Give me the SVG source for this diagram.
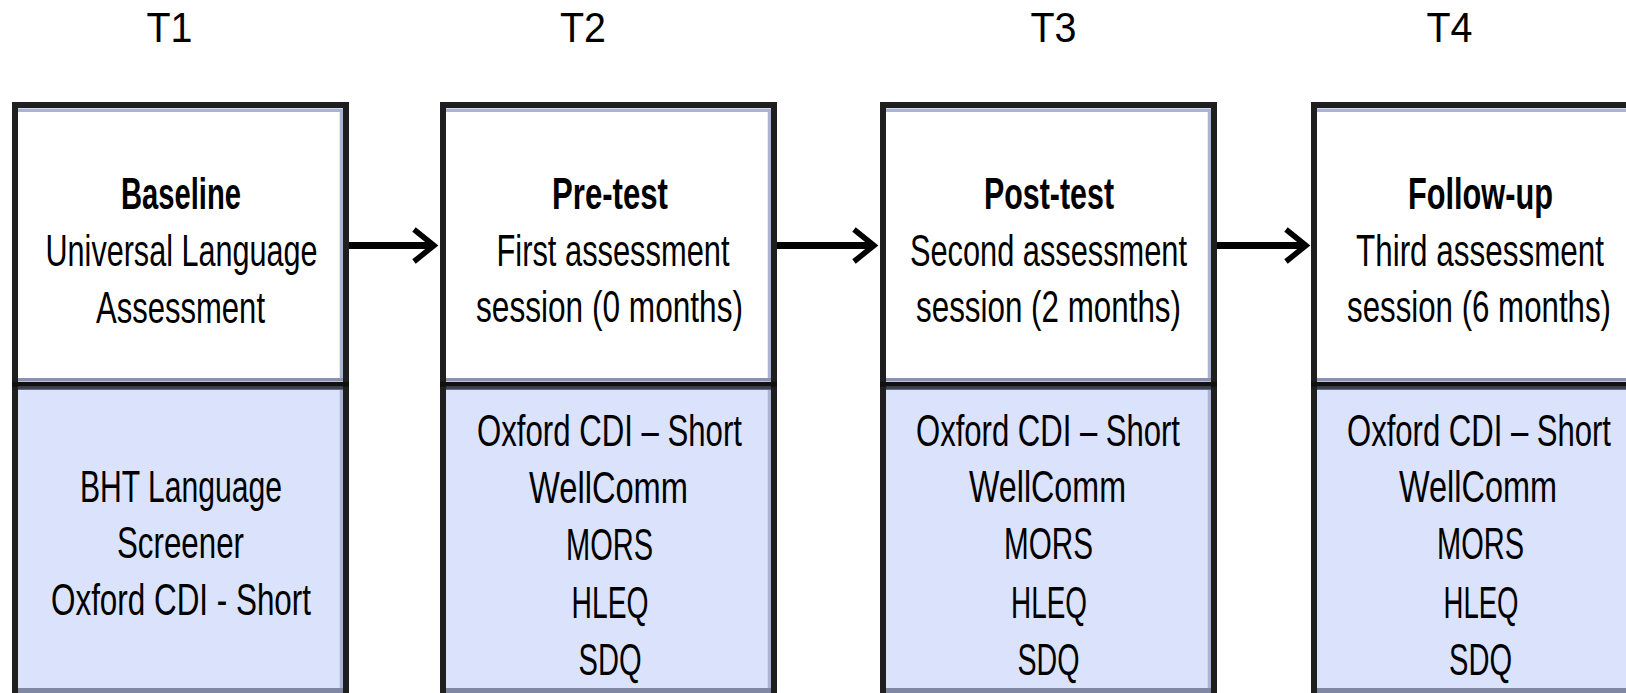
<svg xmlns="http://www.w3.org/2000/svg" width="1626" height="693" viewBox="0 0 1626 693">
  <style>
    text { font-family: "Liberation Sans", Arial, sans-serif; fill: #000; text-anchor: middle; }
    .txt { font-size: 44px; }
    .head { font-weight: bold; }
    .tp { font-size: 42px; }
    .upper { fill: #ffffff; }
    .lower { fill: #dae2fc; }
    .frame { fill: none; stroke: #1f1f1f; stroke-width: 6; }
    .divider { fill: none; stroke: #111111; stroke-width: 5; }
    .shade { fill: none; stroke: #aab3d6; stroke-width: 3.5; }
    .shade-dark { fill: none; stroke: #8a92ad; stroke-width: 3; }
    .slate { fill: none; stroke: #3c4256; stroke-width: 3; }
    .base { fill: none; stroke: #7f87a3; stroke-width: 5; }
    .conn line { stroke: #000; stroke-width: 7; marker-end: url(#chev); }
  </style>
  <defs>
    <!-- open chevron arrowhead -->
    <marker id="chev" markerUnits="userSpaceOnUse" viewBox="-30 -25 40 50" markerWidth="40" markerHeight="50" refX="0" refY="0" orient="auto">
      <path d="M-20,-16 L0,0 L-20,16" fill="none" stroke="#000" stroke-width="5.5" stroke-linejoin="miter"/>
    </marker>
    <!-- two-part session card: white heading panel over blue measures panel -->
    <g id="card">
      <rect class="upper" x="3" y="105" width="331" height="279"/>
      <rect class="lower" x="3" y="384" width="331" height="309"/>
      <path class="shade" d="M6,110.3 H329.5 V378"/>
      <path class="shade-dark" d="M6,379.5 H331"/>
      <path class="slate" d="M6,388.3 H331"/>
      <path class="shade" d="M329.5,390 V688"/>
      <path class="base" d="M3,690.5 H337"/>
      <path class="frame" d="M3,700 V105 H334 V700"/>
      <path class="divider" d="M0,384.2 H337"/>
    </g>
  </defs>

  <!-- time point labels -->
  <g id="timepoints">
    <text id="t1" class="tp" x="169.5" y="42" textLength="46" lengthAdjust="spacingAndGlyphs">T1</text>
    <text id="t2" class="tp" x="583" y="42" textLength="46" lengthAdjust="spacingAndGlyphs">T2</text>
    <text id="t3" class="tp" x="1053.5" y="42" textLength="46" lengthAdjust="spacingAndGlyphs">T3</text>
    <text id="t4" class="tp" x="1449.5" y="42" textLength="46" lengthAdjust="spacingAndGlyphs">T4</text>
  </g>

  <!-- connectors between sessions -->
  <g id="connectors" class="conn">
    <line x1="349" y1="245.5" x2="434" y2="245.5"/>
    <line x1="777" y1="245.5" x2="874" y2="245.5"/>
    <line x1="1217" y1="245.5" x2="1306" y2="245.5"/>
  </g>

  <!-- T1: baseline -->
  <g id="baseline" transform="translate(12,0)">
    <use href="#card"/>
    <text class="txt head" x="169" y="209" textLength="120" lengthAdjust="spacingAndGlyphs">Baseline</text>
    <text class="txt" x="169.5" y="266" textLength="272" lengthAdjust="spacingAndGlyphs">Universal Language</text>
    <text class="txt" x="168.5" y="322.5" textLength="169" lengthAdjust="spacingAndGlyphs">Assessment</text>
    <text class="txt" x="169" y="502" textLength="202" lengthAdjust="spacingAndGlyphs">BHT Language</text>
    <text class="txt" x="168.5" y="558" textLength="127" lengthAdjust="spacingAndGlyphs">Screener</text>
    <text class="txt" x="169" y="615" textLength="260" lengthAdjust="spacingAndGlyphs">Oxford CDI - Short</text>
  </g>

  <!-- T2: pre-test -->
  <g id="pre-test" transform="translate(440,0)">
    <use href="#card"/>
    <text class="txt head" x="170" y="209" textLength="116" lengthAdjust="spacingAndGlyphs">Pre-test</text>
    <text class="txt" x="173" y="266" textLength="233" lengthAdjust="spacingAndGlyphs">First assessment</text>
    <text class="txt" x="169.5" y="322" textLength="267" lengthAdjust="spacingAndGlyphs">session (0 months)</text>
    <text class="txt" x="169.5" y="446" textLength="265" lengthAdjust="spacingAndGlyphs">Oxford CDI – Short</text>
    <text class="txt" x="168.5" y="503" textLength="159" lengthAdjust="spacingAndGlyphs">WellComm</text>
    <text class="txt" x="169.5" y="560" textLength="87" lengthAdjust="spacingAndGlyphs">MORS</text>
    <text class="txt" x="170" y="618" textLength="77" lengthAdjust="spacingAndGlyphs">HLEQ</text>
    <text class="txt" x="170" y="675" textLength="63" lengthAdjust="spacingAndGlyphs">SDQ</text>
  </g>

  <!-- T3: post-test -->
  <g id="post-test" transform="translate(880,0)">
    <use href="#card"/>
    <text class="txt head" x="169" y="209" textLength="130" lengthAdjust="spacingAndGlyphs">Post-test</text>
    <text class="txt" x="168.5" y="266" textLength="277" lengthAdjust="spacingAndGlyphs">Second assessment</text>
    <text class="txt" x="168.5" y="322" textLength="265" lengthAdjust="spacingAndGlyphs">session (2 months)</text>
    <text class="txt" x="168" y="446" textLength="264" lengthAdjust="spacingAndGlyphs">Oxford CDI – Short</text>
    <text class="txt" x="167.5" y="502" textLength="157" lengthAdjust="spacingAndGlyphs">WellComm</text>
    <text class="txt" x="168.5" y="559" textLength="89" lengthAdjust="spacingAndGlyphs">MORS</text>
    <text class="txt" x="169" y="618" textLength="76" lengthAdjust="spacingAndGlyphs">HLEQ</text>
    <text class="txt" x="168.5" y="675" textLength="62" lengthAdjust="spacingAndGlyphs">SDQ</text>
  </g>

  <!-- T4: follow-up -->
  <g id="follow-up" transform="translate(1311,0)">
    <use href="#card"/>
    <text class="txt head" x="169.5" y="209" textLength="145" lengthAdjust="spacingAndGlyphs">Follow-up</text>
    <text class="txt" x="169" y="266" textLength="248" lengthAdjust="spacingAndGlyphs">Third assessment</text>
    <text class="txt" x="168" y="322" textLength="264" lengthAdjust="spacingAndGlyphs">session (6 months)</text>
    <text class="txt" x="168" y="446" textLength="264" lengthAdjust="spacingAndGlyphs">Oxford CDI – Short</text>
    <text class="txt" x="167" y="502" textLength="158" lengthAdjust="spacingAndGlyphs">WellComm</text>
    <text class="txt" x="169.5" y="559" textLength="87" lengthAdjust="spacingAndGlyphs">MORS</text>
    <text class="txt" x="170" y="618" textLength="75" lengthAdjust="spacingAndGlyphs">HLEQ</text>
    <text class="txt" x="169.5" y="675" textLength="63" lengthAdjust="spacingAndGlyphs">SDQ</text>
  </g>
</svg>
